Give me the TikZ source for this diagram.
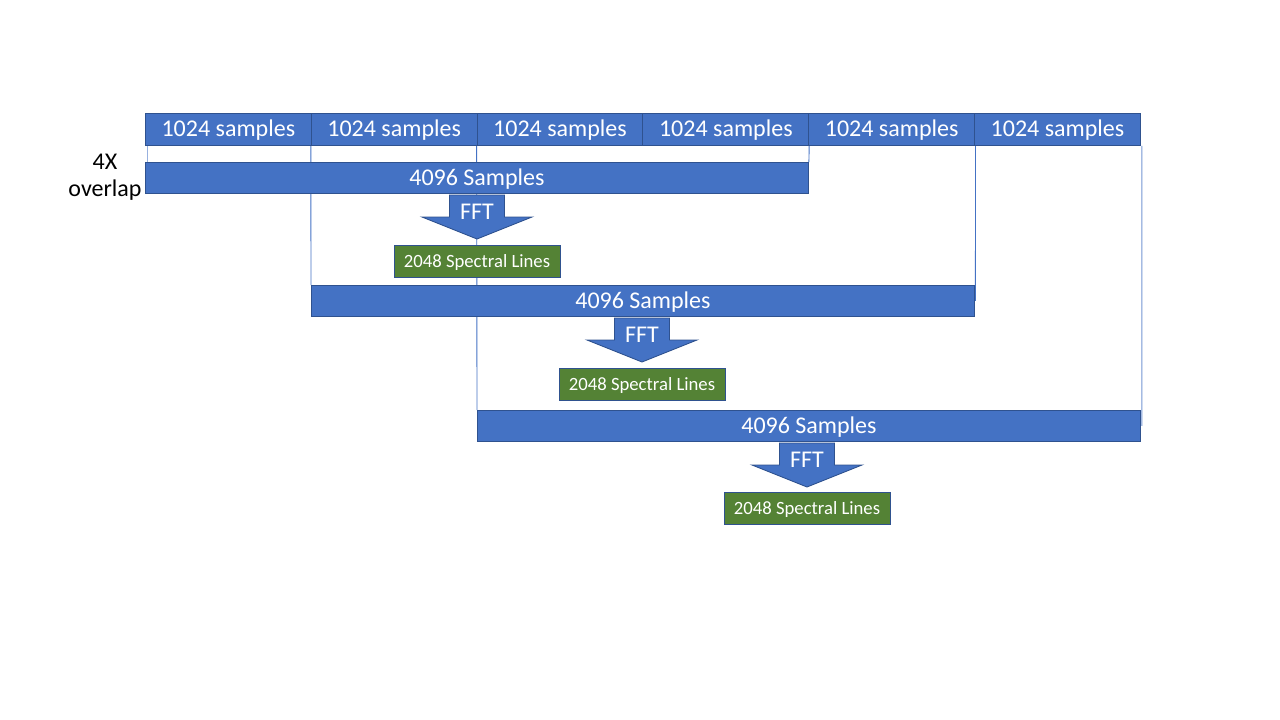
\documentclass[tikz,border=0pt]{standalone}
\usepackage{fontspec}
\setmainfont{Carlito}
\usetikzlibrary{backgrounds}
\definecolor{obl}{HTML}{4472C4}
\definecolor{obd}{HTML}{2F528F}
\definecolor{ogr}{HTML}{548235}
\begin{document}
\begin{tikzpicture}[x=1pt,y=-1pt,
  cell/.style={draw=obd, fill=obl, line width=0.9pt, minimum width=165.8pt, minimum height=32pt,
    inner sep=0pt, text height=18pt, text depth=4pt,
    text=white, font=\fontsize{24}{28}\selectfont, anchor=north west},
  bar/.style={draw=obd, fill=obl, line width=0.9pt, minimum width=663pt, minimum height=31pt,
    inner sep=0pt, text height=19pt, text depth=3pt,
    text=white, font=\fontsize{24}{28}\selectfont, anchor=north west},
  spec/.style={draw=obd, fill=ogr, line width=0.9pt, minimum width=166pt, minimum height=32pt,
    inner sep=0pt, text height=15.3pt, text depth=2.7pt,
    text=white, font=\fontsize{18.7}{22}\selectfont},
  vline/.style={draw=obl, line width=0.9pt},
  fftshape/.style={draw=obd, fill=obl, line width=0.9pt},
  ffttext/.style={text=white, font=\fontsize{24}{28}\selectfont, inner sep=0pt},
  lbl/.style={text=black, font=\fontsize{24}{26.5}\selectfont, align=center, inner sep=0pt}]
\useasboundingbox (0,0) rectangle (1280,720);

% top row of 1024-sample blocks
\foreach \i in {1,...,6}{
  \node[cell] (c\i) at ({145+(\i-1)*165.83},113) {1024 samples};
}

% 4096-sample windows
\node[bar] (b1) at (145,162) {4096 Samples};
\node[bar] (b2) at (311,285) {4096 Samples};
\node[bar] (b3) at (477,410) {4096 Samples};

% FFT arrows
\foreach \i/\cx/\yt in {1/477/195, 2/642/318, 3/807/443}{
  \draw[fftshape] (\cx-27.5,\yt) -- (\cx+27.5,\yt) -- (\cx+27.5,\yt+22) -- (\cx+55,\yt+22)
     -- (\cx,\yt+44) -- (\cx-55,\yt+22) -- (\cx-27.5,\yt+22) -- cycle;
  \node[ffttext, anchor=base] (f\i) at (\cx,\yt+24) {FFT};
}

% spectral line outputs
\node[spec] (s1) at (477,261) {2048 Spectral Lines};
\node[spec] (s2) at (642,384) {2048 Spectral Lines};
\node[spec] (s3) at (807,508.5) {2048 Spectral Lines};

% overlap label
\node[lbl, anchor=base] (ov) at (105,196) {4X\\overlap};

% window boundary lines
\begin{scope}[on background layer]
  \draw[vline, draw=obl!55] ([xshift=2pt]c1.south west) -- ([xshift=2pt]b1.north west);
  \draw[vline] (c2.south west) -- (b2.north west);
  \draw[vline] (c3.south west) -- (b3.north west);
  \draw[vline] (c4.south east) -- (b1.north east);
  \draw[vline] ([xshift=0.5pt]c5.south east) -- ([xshift=0.5pt]b2.east);
  \draw[vline, draw=obl!75] ([xshift=1pt]c6.south east) -- ([xshift=1pt]b3.east);
\end{scope}
\end{tikzpicture}
\end{document}
